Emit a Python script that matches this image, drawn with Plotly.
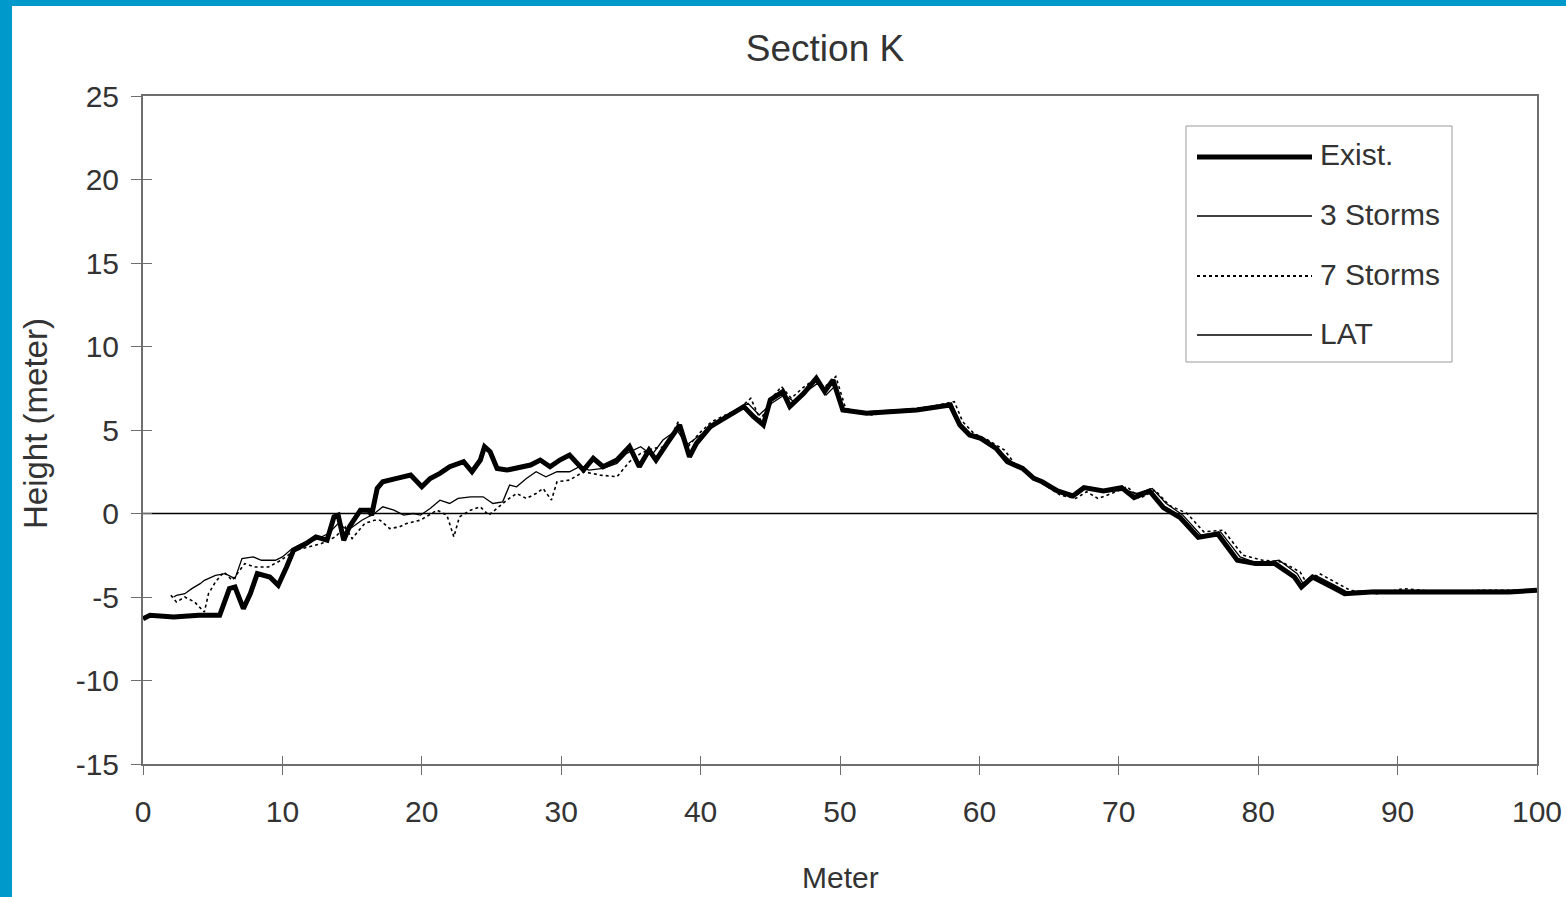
import plotly.graph_objects as go

# ---------------- data ----------------
exist_x = [0, 0.5, 2.2, 4.0, 5.5, 6.2, 6.6, 7.2, 7.7, 8.2, 9.1, 9.7, 10.3, 10.8, 11.7, 12.4, 13.2, 13.7, 14.0,
           14.4, 14.8, 15.6, 16.2, 16.4, 16.8, 17.2, 18.2, 19.2, 20.0, 20.6, 21.3, 22.0, 23.0, 23.6, 24.2, 24.5,
           24.9, 25.4, 26.1, 27.8, 28.5, 29.2, 29.9, 30.6, 31.6, 32.3, 33.0, 34.0, 34.9, 35.6, 36.3, 36.8, 37.6,
           38.5, 39.2, 39.7, 40.7, 41.9, 43.1, 43.8, 44.5, 45.0, 45.9, 46.4, 47.4, 48.3, 48.9, 49.5, 50.2, 51.9,
           53.5, 55.5, 57.9, 58.6, 59.3, 60.1, 61.2, 62.0, 63.1, 63.9, 64.5, 65.6, 66.7, 67.5, 68.9, 70.2, 71.1,
           72.2, 73.2, 74.4, 75.7, 77.1, 78.5, 79.8, 81.2, 82.6, 83.1, 83.9, 85.3, 86.2, 88.1, 90.8, 94.0, 98.0, 100]
exist_y = [-6.3, -6.1, -6.2, -6.1, -6.1, -4.5, -4.4, -5.7, -4.8, -3.6, -3.8, -4.3, -3.2, -2.2, -1.8, -1.4, -1.6,
           -0.2, -0.1, -1.6, -0.8, 0.2, 0.2, -0.1, 1.5, 1.9, 2.1, 2.3, 1.6, 2.1, 2.4, 2.8, 3.1, 2.5, 3.2, 4.0, 3.7,
           2.7, 2.6, 2.9, 3.2, 2.8, 3.2, 3.5, 2.6, 3.3, 2.8, 3.2, 4.0, 2.8, 3.8, 3.2, 4.2, 5.3, 3.4, 4.2, 5.2, 5.8,
           6.4, 5.8, 5.3, 6.8, 7.3, 6.4, 7.2, 8.1, 7.3, 8.0, 6.2, 6.0, 6.1, 6.2, 6.5, 5.3, 4.7, 4.5, 3.9, 3.1, 2.7,
           2.1, 1.9, 1.35, 1.05, 1.55, 1.35, 1.55, 0.95, 1.35, 0.35, -0.24, -1.43, -1.23, -2.8, -3.0, -3.0, -3.8,
           -4.4, -3.8, -4.4, -4.8, -4.7, -4.7, -4.65, -4.7, -4.6]

storm3_x = [2.2, 2.4, 3.0, 3.5, 4.1, 4.4, 5.2, 5.9, 6.6, 7.1, 7.9, 8.5, 9.5, 10.0, 10.7, 11.4, 12.3, 13.3, 14.0,
            14.7, 15.7, 16.6, 17.2, 18.0, 18.7, 19.4, 19.9, 20.6, 21.3, 22.0, 22.6, 23.5, 24.4, 25.1, 25.8, 26.3,
            26.8, 27.5, 28.2, 28.9, 29.7, 30.6, 31.3, 32.0, 33.0, 34.0, 34.7, 35.7, 36.5, 37.3, 38.3, 39.0, 39.8,
            40.6, 41.5, 42.5, 43.4, 44.2, 45.1, 46.0, 46.7, 47.6, 48.4, 49.0, 49.6, 50.3, 52.0, 54.0, 56.0, 58.0,
            58.7, 59.5, 60.4, 61.5, 62.3, 63.3, 64.2, 65.0, 66.0, 67.0, 67.8, 69.2, 70.4, 71.3, 72.4, 73.4, 74.6,
            75.9, 77.3, 78.7, 80.0, 81.5, 82.8, 83.3, 84.1, 85.5, 86.4, 88.3, 91.0, 95.0, 100]
storm3_y = [-5.0, -4.9, -4.8, -4.5, -4.2, -4.0, -3.7, -3.6, -3.9, -2.7, -2.6, -2.8, -2.8, -2.6, -2.1, -1.8, -1.6,
            -1.2, -0.6, -1.0, -0.4, 0.0, 0.4, 0.2, -0.1, 0.0, -0.1, 0.3, 0.8, 0.6, 0.9, 1.0, 1.0, 0.6, 0.7, 1.7,
            1.6, 2.1, 2.5, 2.2, 2.5, 2.5, 2.8, 2.6, 2.7, 3.0, 3.6, 4.0, 3.5, 4.4, 5.0, 4.1, 4.6, 5.0, 5.6, 6.1,
            6.6, 5.9, 6.6, 7.1, 6.7, 7.3, 7.8, 7.1, 7.6, 6.1, 6.1, 6.2, 6.3, 6.6, 5.2, 4.6, 4.3, 3.7, 3.1, 2.6,
            2.0, 1.7, 1.3, 1.1, 1.6, 1.3, 1.4, 1.2, 1.5, 0.6, -0.1, -1.3, -1.1, -2.6, -3.0, -2.8, -3.6, -4.3,
            -3.7, -4.3, -4.7, -4.6, -4.6, -4.6, -4.6]

storm7_x = [2.0, 2.4, 3.0, 3.7, 4.4, 4.7, 5.2, 5.8, 6.4, 7.3, 8.0, 9.0, 9.9, 10.9, 11.9, 12.8, 13.8, 14.5, 15.0,
            15.9, 16.6, 17.0, 17.7, 18.4, 18.9, 19.9, 21.1, 21.8, 22.3, 22.7, 23.5, 24.2, 24.8, 25.4, 26.1, 26.8,
            27.5, 28.2, 28.7, 29.3, 29.7, 30.6, 31.6, 32.8, 34.0, 34.9, 35.7, 36.6, 37.5, 38.4, 39.1, 39.9, 40.8,
            41.8, 42.8, 43.6, 44.3, 45.2, 45.8, 46.5, 47.3, 48.1, 48.8, 49.7, 50.4, 52.3, 54.5, 56.5, 58.2, 58.8,
            59.6, 60.6, 61.8, 62.6, 63.6, 64.7, 65.8, 66.9, 67.7, 68.5, 69.5, 70.6, 71.5, 72.6, 73.6, 74.9, 76.1,
            77.5, 78.9, 80.3, 81.7, 83.0, 83.5, 84.4, 85.7, 86.6, 88.5, 90.5, 93.0, 96.0, 100]
storm7_y = [-4.9, -5.3, -5.0, -5.3, -5.9, -4.8, -4.1, -3.5, -4.0, -3.0, -3.2, -3.2, -2.8, -2.2, -2.0, -1.8, -1.4,
            -0.8, -1.5, -0.6, -0.4, -0.4, -0.9, -0.8, -0.6, -0.4, 0.2, -0.1, -1.4, -0.2, 0.2, 0.4, -0.1, 0.3, 0.8,
            1.2, 0.9, 1.2, 1.5, 0.8, 1.9, 2.0, 2.5, 2.3, 2.2, 3.1, 3.6, 3.9, 4.0, 5.5, 4.0, 4.8, 5.5, 5.9, 6.3,
            6.9, 5.6, 7.0, 7.6, 6.9, 7.5, 8.0, 7.5, 8.2, 6.3, 5.9, 6.2, 6.4, 6.7, 5.5, 4.8, 4.4, 3.8, 2.9, 2.4,
            1.7, 1.1, 0.9, 1.3, 0.9, 1.2, 1.6, 0.9, 1.4, 0.5, 0.0, -1.1, -1.0, -2.5, -2.8, -2.9, -3.5, -4.2, -3.6,
            -4.2, -4.6, -4.8, -4.5, -4.7, -4.6, -4.6]

lat_x = [0, 100]
lat_y = [0, 0]

x_ticks = [0, 10, 20, 30, 40, 50, 60, 70, 80, 90, 100]
y_ticks = [-15, -10, -5, 0, 5, 10, 15, 20, 25]

series_names = ["Exist.", "3 Storms", "7 Storms", "LAT"]

# ---------------- figure ----------------
FONT = "Liberation Sans, Arial, sans-serif"
TXT = "#333333"
BLUE = "#0099CC"
AX = "#6e6e6e"

styles = {
    "Exist.": dict(color="black", width=5, dash="solid"),
    "3 Storms": dict(color="black", width=1.3, dash="solid"),
    "7 Storms": dict(color="black", width=1.6, dash="dot"),
    "LAT": dict(color="black", width=1.6, dash="solid"),
}

fig = go.Figure()
fig.add_trace(go.Scatter(x=lat_x, y=lat_y, mode="lines", name="LAT", line=styles["LAT"], showlegend=False))
fig.add_trace(go.Scatter(x=storm7_x, y=storm7_y, mode="lines", name="7 Storms", line=styles["7 Storms"], showlegend=False))
fig.add_trace(go.Scatter(x=storm3_x, y=storm3_y, mode="lines", name="3 Storms", line=styles["3 Storms"], showlegend=False))
fig.add_trace(go.Scatter(x=exist_x, y=exist_y, mode="lines", name="Exist.", line=styles["Exist."], showlegend=False))

W, H = 1566, 897
L, R, T, B = 143, 1537, 96, 764
pw, ph = R - L, B - T


def px(xp):
    return (xp - L) / pw


def py(yp):
    return (B - yp) / ph


shapes = []
# blue frame strips
shapes.append(dict(type="rect", xref="paper", yref="paper", x0=px(-5), x1=px(12), y0=py(-5), y1=py(H + 5),
                   fillcolor=BLUE, line=dict(width=0), layer="below"))
shapes.append(dict(type="rect", xref="paper", yref="paper", x0=px(-5), x1=px(W + 5), y0=py(6), y1=py(-5),
                   fillcolor=BLUE, line=dict(width=0), layer="below"))

# custom legend
shapes.append(dict(type="rect", xref="paper", yref="paper", x0=px(1186), x1=px(1452), y0=py(362), y1=py(126),
                   fillcolor="white", line=dict(color="#9a9a9a", width=1)))
legend_y = [157, 216, 276, 335]
annotations = []
for name, ly in zip(series_names, legend_y):
    st = styles[name]
    shapes.append(dict(type="line", xref="paper", yref="paper", x0=px(1197), x1=px(1312), y0=py(ly), y1=py(ly),
                       line=dict(color=st["color"], width=st["width"] if name != "7 Storms" else 2.2, dash=st["dash"])))
    annotations.append(dict(text=name, xref="paper", yref="paper", x=px(1318), y=py(ly - 2), xanchor="left",
                            yanchor="middle", showarrow=False, font=dict(family=FONT, size=30, color=TXT)))

# axis titles
annotations.append(dict(text="Meter", xref="paper", yref="paper", x=px(840), y=py(877), xanchor="center",
                        yanchor="middle", showarrow=False, font=dict(family=FONT, size=30, color=TXT)))
annotations.append(dict(text="Height (meter)", xref="paper", yref="paper", x=px(35), y=py(424), xanchor="center",
                        yanchor="middle", textangle=-90, showarrow=False, font=dict(family=FONT, size=33, color=TXT)))

fig.update_layout(
    width=W, height=H,
    margin=dict(l=L, r=W - R, t=T, b=H - B, pad=0, autoexpand=False),
    paper_bgcolor="white", plot_bgcolor="white",
    title=dict(text="Section K", x=825 / W, xref="container", xanchor="center", y=1 - 48 / H, yref="container",
               yanchor="middle", font=dict(family=FONT, size=37, color=TXT)),
    xaxis=dict(range=[0, 100], tickvals=x_ticks, ticktext=[str(v) for v in x_ticks], ticks="outside", ticklen=9,
               tickwidth=1, tickcolor=AX, showline=True, linecolor=AX, linewidth=2, mirror=True, automargin=False,
               ticklabelstandoff=11, tickfont=dict(family=FONT, size=30, color=TXT), showgrid=False, zeroline=False),
    yaxis=dict(range=[-15, 25], tickvals=y_ticks, ticktext=[str(v) for v in y_ticks], ticks="outside", ticklen=10,
               tickwidth=1, tickcolor=AX, showline=True, linecolor=AX, linewidth=2, mirror=True, automargin=False,
               ticklabelstandoff=6, tickfont=dict(family=FONT, size=30, color=TXT), showgrid=False, zeroline=False),
    xaxis2=dict(range=[0, 100], overlaying="x", tickvals=x_ticks, ticks="inside", ticklen=8, tickwidth=1,
                tickcolor=AX, showticklabels=False, showline=False, showgrid=False, zeroline=False, automargin=False),
    yaxis2=dict(range=[-15, 25], overlaying="y", tickvals=y_ticks, ticks="inside", ticklen=9, tickwidth=1,
                tickcolor=AX, showticklabels=False, showline=False, showgrid=False, zeroline=False, automargin=False),
    shapes=shapes,
    annotations=annotations,
    showlegend=False,
)
# invisible helper trace so the overlay axes (for crossing tick marks) are drawn
fig.add_trace(go.Scatter(x=[None], y=[None], xaxis="x2", yaxis="y2", showlegend=False, hoverinfo="skip"))

fig.write_html("out.html", config={"displayModeBar": False},
               post_script="document.body.style.margin='0';document.body.style.overflow='hidden';")
